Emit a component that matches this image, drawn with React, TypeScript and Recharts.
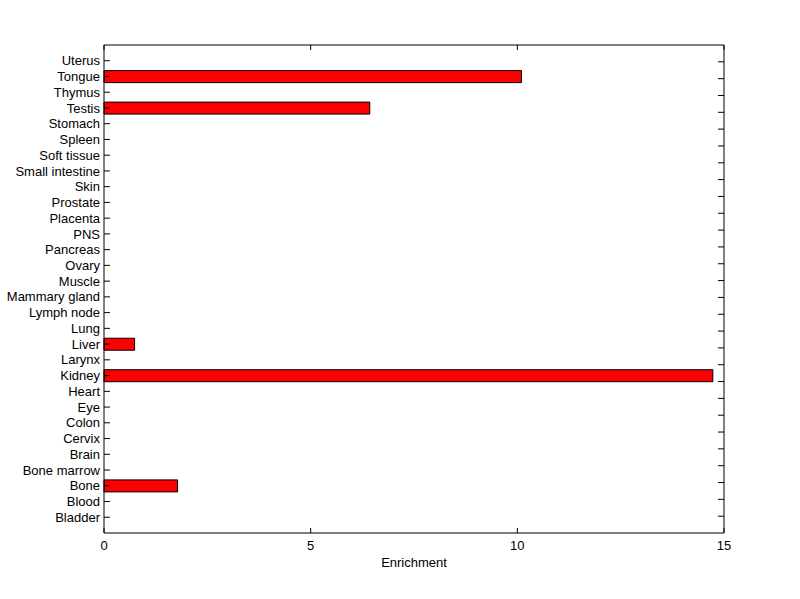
import { BarChart, Bar, XAxis, YAxis } from 'recharts'

// bottom to top, as drawn
const tissues = [
  'Bladder', 'Blood', 'Bone', 'Bone marrow', 'Brain', 'Cervix', 'Colon', 'Eye',
  'Heart', 'Kidney', 'Larynx', 'Liver', 'Lung', 'Lymph node', 'Mammary gland',
  'Muscle', 'Ovary', 'Pancreas', 'PNS', 'Placenta', 'Prostate', 'Skin',
  'Small intestine', 'Soft tissue', 'Spleen', 'Stomach', 'Testis', 'Thymus',
  'Tongue', 'Uterus',
]
const enrichment = [
  0, 0, 1.78, 0, 0, 0, 0, 0,
  0, 14.73, 0, 0.74, 0, 0, 0,
  0, 0, 0, 0, 0, 0, 0,
  0, 0, 0, 0, 6.43, 0,
  10.1, 0,
]
const xTicks = [0, 5, 10, 15]

const data = tissues.map((name, i) => ({ pos: i + 1, name, value: enrichment[i] }))
const yTicks = data.map((d) => d.pos)

const font = { fontFamily: 'Liberation Sans, Arial, sans-serif', fontSize: 13, fill: '#000' }

const LeftTick = ({ x, y, payload }: any) => (
  <g>
    <line x1={x} x2={x + 6} y1={y} y2={y} stroke="#000" />
    <text x={x - 4} y={y} dy="0.355em" textAnchor="end" {...font}>
      {tissues[payload.value - 1]}
    </text>
  </g>
)

// only the ticks inside the box
const RightTick = ({ x, y }: any) =>
  y > 46 && y < 532 ? <line x1={x - 6} x2={x} y1={y} y2={y} stroke="#000" /> : <g />

const BottomTick = ({ x, y, payload }: any) => (
  <g>
    <line x1={x} x2={x} y1={y - 5} y2={y} stroke="#000" />
    <text x={x} y={y + 8} dy="0.71em" textAnchor="middle" {...font}>
      {payload.value}
    </text>
  </g>
)

const TopTick = ({ x, y }: any) => (
  <line x1={x} x2={x} y1={y} y2={y + 5} stroke="#000" />
)

export default function App() {
  return (
    <div style={{ position: 'absolute', left: 0, top: 0, background: '#fff' }}>
      <BarChart
        width={800}
        height={599}
        data={data}
        layout="vertical"
        margin={{ top: 44, right: 75, left: 103, bottom: 32 }}
      >
        <XAxis
          xAxisId="bottom"
          type="number"
          dataKey="value"
          domain={[0, 15]}
          ticks={xTicks}
          height={34}
          tickSize={0}
          tickMargin={0}
          tickLine={false}
          tick={<BottomTick />}
          axisLine={{ stroke: '#000' }}
          label={{ value: 'Enrichment', position: 'insideBottom', offset: 0, ...font }}
        />
        <XAxis
          xAxisId="top"
          orientation="top"
          type="number"
          domain={[0, 15]}
          ticks={xTicks}
          height={1}
          tickSize={0}
          tickMargin={0}
          tickLine={false}
          tick={<TopTick />}
          axisLine={{ stroke: '#000' }}
          allowDataOverflow
        />
        <YAxis
          yAxisId="left"
          type="number"
          dataKey="pos"
          domain={[0, 31]}
          ticks={yTicks}
          width={1}
          tickSize={0}
          tickMargin={0}
          tickLine={false}
          tick={<LeftTick />}
          axisLine={{ stroke: '#000' }}
          interval={0}
          reversed
        />
        <YAxis
          yAxisId="right"
          orientation="right"
          type="number"
          domain={[0, 31]}
          ticks={yTicks}
          width={1}
          tickSize={0}
          tickMargin={0}
          tickLine={false}
          tick={<RightTick />}
          axisLine={{ stroke: '#000' }}
          interval={0}
          reversed
          allowDataOverflow
        />
        <Bar
          xAxisId="bottom"
          yAxisId="left"
          dataKey="value"
          fill="#ff0000"
          stroke="#000"
          strokeWidth={1}
          barSize={12}
          isAnimationActive={false}
        />
      </BarChart>
    </div>
  )
}
